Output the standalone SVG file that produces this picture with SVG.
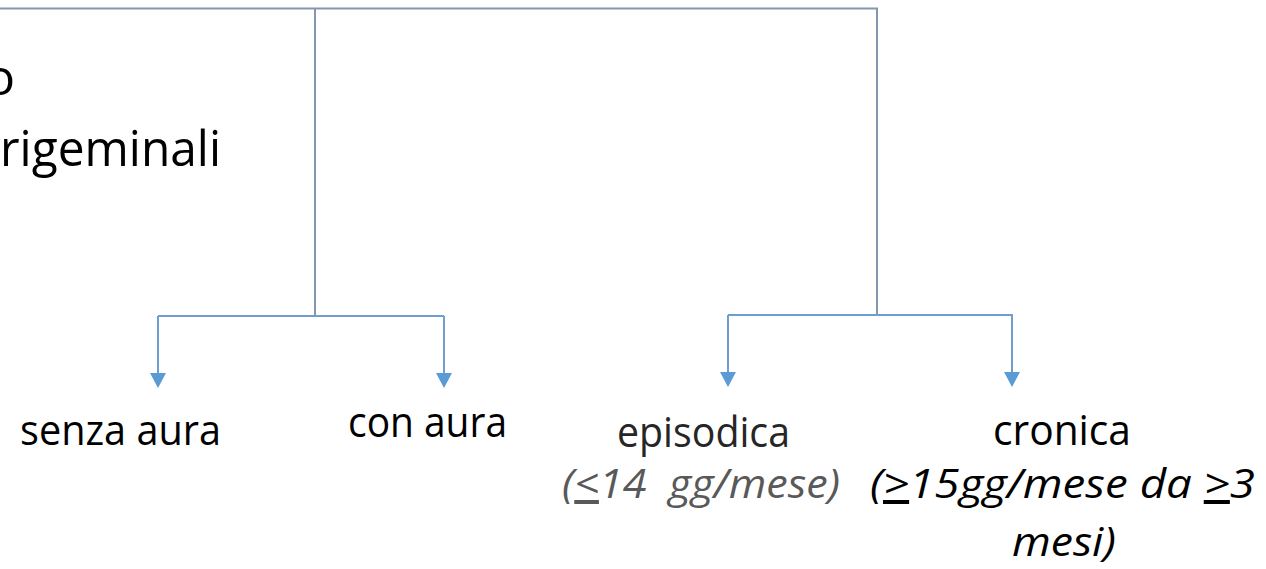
<svg xmlns="http://www.w3.org/2000/svg" width="1266" height="569" viewBox="0 0 1266 569">
  <style>
    .t { font-family: "Open Sans", "Noto Sans", sans-serif; fill: #000; }
    .lbl { font-size: 42px; }
    .sub { font-size: 40px; font-style: italic; white-space: pre; }
    .trunk { fill: none; stroke: #8497b0; stroke-width: 2; }
    .branch { fill: none; stroke: #6d9dd1; stroke-width: 2; }
  </style>
  <defs>
    <marker id="ah" markerUnits="userSpaceOnUse" markerWidth="16" markerHeight="16" viewBox="0 0 16 16" refX="0" refY="8" orient="auto">
      <path d="M0,0 L15,8 L0,16 Z" fill="#5b9bd5"/>
    </marker>
  </defs>
  <rect width="1266" height="569" fill="#ffffff"/>

  <g id="connectors">
    <path class="trunk" d="M0,8.5 H877 V315"/>
    <path class="trunk" d="M315,8.5 V316"/>
    <path class="branch" d="M158,316 H444"/>
    <path class="branch" d="M158,316 V373" marker-end="url(#ah)"/>
    <path class="branch" d="M444,316 V373" marker-end="url(#ah)"/>
    <path class="branch" d="M728,315 H1013"/>
    <path class="branch" d="M728,315 V372" marker-end="url(#ah)"/>
    <path class="branch" d="M1012,315 V372" marker-end="url(#ah)"/>
  </g>

  <g id="root">
    <text class="t" x="-15" y="95" font-size="50">o</text>
    <text class="t" x="0" y="166" font-size="50" textLength="221" lengthAdjust="spacingAndGlyphs">rigeminali</text>
  </g>

  <g id="senza-aura">
    <text class="t lbl" x="20" y="445" textLength="201" lengthAdjust="spacingAndGlyphs">senza aura</text>
  </g>

  <g id="con-aura">
    <text class="t lbl" x="348" y="437" textLength="159" lengthAdjust="spacingAndGlyphs">con aura</text>
  </g>

  <g id="episodica">
    <text class="t lbl" x="617" y="447" style="fill:#262626" textLength="173" lengthAdjust="spacingAndGlyphs">episodica</text>
    <text class="t sub" x="562" y="498" style="fill:#595959" textLength="278" lengthAdjust="spacingAndGlyphs">(<tspan text-decoration="underline">&lt;</tspan>14  gg/mese)</text>
  </g>

  <g id="cronica">
    <text class="t lbl" x="993" y="445" textLength="138" lengthAdjust="spacingAndGlyphs">cronica</text>
    <text class="t sub" x="870" y="498" textLength="385" lengthAdjust="spacingAndGlyphs">(<tspan text-decoration="underline">&gt;</tspan>15gg/mese da <tspan text-decoration="underline">&gt;</tspan>3</text>
    <text class="t sub" x="1012" y="556" textLength="104" lengthAdjust="spacingAndGlyphs">mesi)</text>
  </g>
</svg>
